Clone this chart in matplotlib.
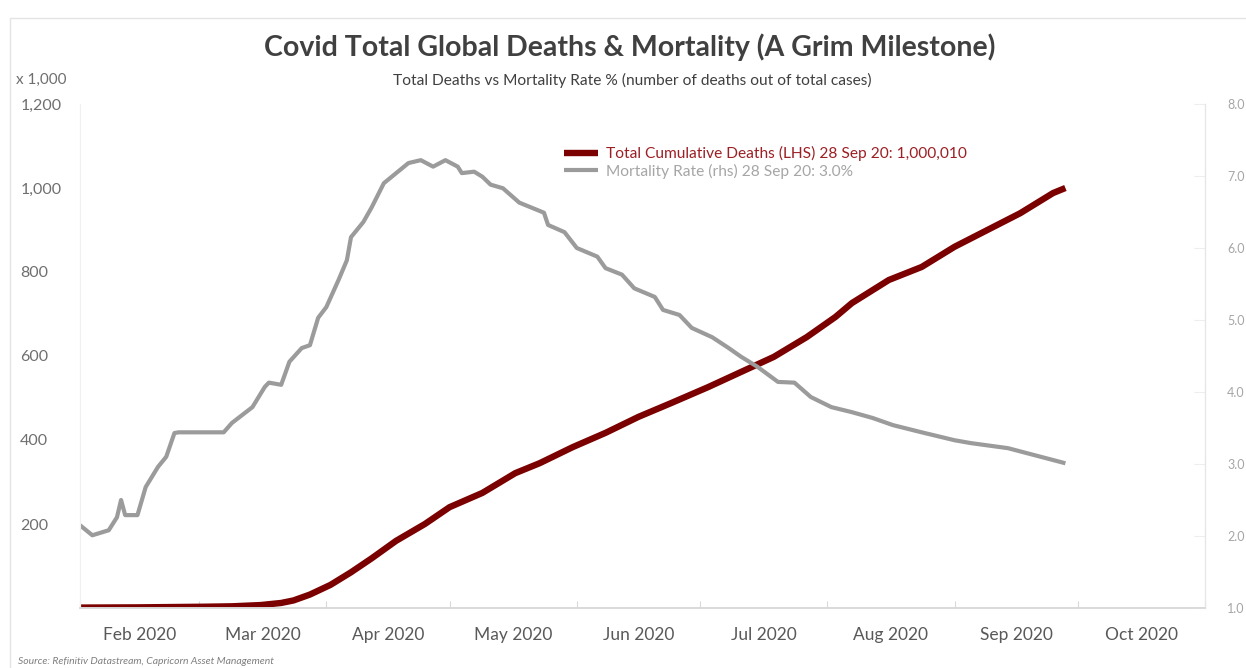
import numpy as np
import pandas as pd
import matplotlib
matplotlib.use("Agg")
import matplotlib.pyplot as plt
import matplotlib.dates as mdates
from matplotlib.patches import Rectangle
from matplotlib.ticker import FixedLocator, NullFormatter

# ─────────────────────────────────────────────
# DATA
# ─────────────────────────────────────────────
# total cumulative deaths, thousands (LHS)
death_dates = ["2020-02-01", "2020-02-15", "2020-03-02", "2020-03-09", "2020-03-16",
               "2020-03-21", "2020-03-24", "2020-03-28", "2020-04-02", "2020-04-07",
               "2020-04-12", "2020-04-18", "2020-04-25", "2020-05-01", "2020-05-09",
               "2020-05-17", "2020-05-23", "2020-05-31", "2020-06-08", "2020-06-16",
               "2020-06-24", "2020-07-03", "2020-07-11", "2020-07-19", "2020-07-27",
               "2020-08-03", "2020-08-07", "2020-08-16", "2020-08-24", "2020-09-01",
               "2020-09-09", "2020-09-17", "2020-09-25", "2020-09-28"]
deaths_k = [1, 1.5, 3, 4, 7, 12, 18, 32, 55, 85, 118, 160, 200, 240, 274,
            321, 345, 383, 417, 455, 488, 526, 562, 598, 645, 693, 726,
            781, 812, 860, 900, 940, 988, 1000]

# mortality rate, % of total cases (RHS)
rate_dates = ["2020-02-01", "2020-02-04", "2020-02-08", "2020-02-10", "2020-02-11",
              "2020-02-12", "2020-02-15", "2020-02-17", "2020-02-20", "2020-02-22",
              "2020-02-24", "2020-02-25", "2020-03-07", "2020-03-09", "2020-03-14",
              "2020-03-17", "2020-03-18", "2020-03-21", "2020-03-23", "2020-03-26",
              "2020-03-28", "2020-03-30", "2020-04-01", "2020-04-04", "2020-04-06",
              "2020-04-07", "2020-04-10", "2020-04-12", "2020-04-15", "2020-04-18",
              "2020-04-21", "2020-04-24", "2020-04-27", "2020-04-30", "2020-05-03",
              "2020-05-04", "2020-05-07", "2020-05-09", "2020-05-11", "2020-05-14",
              "2020-05-18", "2020-05-24", "2020-05-25", "2020-05-29", "2020-06-01",
              "2020-06-06", "2020-06-08", "2020-06-12", "2020-06-15", "2020-06-20",
              "2020-06-22", "2020-06-26", "2020-06-29", "2020-07-04", "2020-07-08",
              "2020-07-11", "2020-07-15", "2020-07-20", "2020-07-24", "2020-07-28",
              "2020-08-02", "2020-08-07", "2020-08-12", "2020-08-17", "2020-08-24",
              "2020-09-01", "2020-09-05", "2020-09-14", "2020-09-22", "2020-09-28"]
rate_pct = [2.15, 2.01, 2.08, 2.26, 2.50, 2.29, 2.29, 2.68, 2.96, 3.10,
            3.43, 3.44, 3.44, 3.57, 3.79, 4.07, 4.13, 4.10, 4.42, 4.61,
            4.65, 5.03, 5.18, 5.56, 5.83, 6.15, 6.36, 6.56, 6.90, 7.04,
            7.18, 7.22, 7.13, 7.22, 7.13, 7.04, 7.06, 6.99, 6.88, 6.83,
            6.63, 6.49, 6.32, 6.22, 6.00, 5.88, 5.72, 5.63, 5.44, 5.32,
            5.14, 5.07, 4.89, 4.76, 4.61, 4.49, 4.35, 4.14, 4.13, 3.93,
            3.79, 3.72, 3.64, 3.54, 3.44, 3.33, 3.29, 3.22, 3.10, 3.01]

left_ticks = [200, 400, 600, 800, 1000, 1200]
right_ticks = [1.0, 2.0, 3.0, 4.0, 5.0, 6.0, 7.0, 8.0]

RED = "#7b0000"
GREY = "#9b9b9b"
AXIS_GREY = "#d9d9d9"
FONT = "Lato"

# ─────────────────────────────────────────────
# FIGURE
# ─────────────────────────────────────────────
plt.rcParams["font.family"] = [FONT, "DejaVu Sans"]
fig = plt.figure(figsize=(12.46, 6.68), dpi=100)
W, H = 1246, 668
ax = fig.add_axes([80 / W, 1 - 608 / H, 1125 / W, 504 / H])
ax2 = ax.twinx()

d_dates = pd.to_datetime(death_dates)
r_dates = pd.to_datetime(rate_dates)

ln1, = ax.plot(d_dates, deaths_k, color=RED, lw=4.6, solid_capstyle="butt",
               solid_joinstyle="round",
               label="Total Cumulative Deaths (LHS) 28 Sep 20: 1,000,010")
ln2, = ax2.plot(r_dates, rate_pct, color=GREY, lw=3.0, solid_capstyle="butt",
                solid_joinstyle="round",
                label="Mortality Rate (rhs) 28 Sep 20: 3.0%")

ax.set_xlim(pd.Timestamp("2020-02-01"), pd.Timestamp("2020-11-01"))
ax.set_ylim(0, 1200)
ax2.set_ylim(1.0, 8.0)

# month boundaries as ticks, labels centred in each month
month_starts = pd.date_range("2020-02-01", "2020-11-01", freq="MS")
mids = [s + (e - s) / 2 for s, e in zip(month_starts[:-1], month_starts[1:])]
ax.xaxis.set_major_locator(FixedLocator(mdates.date2num(month_starts)))
ax.xaxis.set_major_formatter(NullFormatter())
ax.xaxis.set_minor_locator(FixedLocator(mdates.date2num(mids)))
ax.set_xticklabels([m.strftime("%b %Y") for m in mids], minor=True)
ax.tick_params(axis="x", which="major", direction="in", length=5, color=AXIS_GREY)
ax.tick_params(axis="x", which="minor", length=0, pad=14, labelsize=12.5,
               labelcolor="#595959")

ax.set_yticks(left_ticks)
ax.set_yticklabels([f"{v:,}" for v in left_ticks])
ax.tick_params(axis="y", length=0, pad=43, labelsize=11.5, labelcolor="#6f6f6f")
for lbl in ax.get_yticklabels():
    lbl.set_horizontalalignment("left")

ax2.set_yticks(right_ticks)
ax2.set_yticklabels([f"{v:.1f}" for v in right_ticks])
ax2.tick_params(axis="y", direction="in", length=8, color="#eeeeee", pad=16,
                labelsize=9, labelcolor="#a6a6a6")

for a in (ax, ax2):
    a.spines["top"].set_visible(False)
    a.spines["bottom"].set_color(AXIS_GREY)
    a.spines["left"].set_color("#f0f0f0")
    a.spines["right"].set_color("#e6e6e6")
    a.spines["bottom"].set_linewidth(1.2)

leg = ax2.legend(handles=[ln1, ln2], loc="upper left", frameon=False,
                 bbox_to_anchor=(558 / W, 1 - 140 / H), bbox_transform=fig.transFigure,
                 fontsize=11.2, handlelength=2.2, handletextpad=0.5, labelspacing=0.15,
                 borderaxespad=0)
for txt, col in zip(leg.get_texts(), ("#9c1f24", "#a6a6a6")):
    txt.set_color(col)

# ─────────────────────────────────────────────
# TEXT & FRAME
# ─────────────────────────────────────────────
fig.text(630 / W, 1 - 47 / H, "Covid Total Global Deaths & Mortality (A Grim Milestone)",
         ha="center", va="center", fontsize=20.5, fontweight="bold", color="#404040")
fig.text(632 / W, 1 - 80 / H,
         "Total Deaths vs Mortality Rate % (number of deaths out of total cases)",
         ha="center", va="center", fontsize=11.2, color="#404040")
fig.text(16 / W, 1 - 80 / H, "x 1,000", ha="left", va="center", fontsize=11,
         color="#6f6f6f")
fig.text(18 / W, 1 - 661 / H, "Source: Refinitiv Datastream, Capricorn Asset Management",
         ha="left", va="center", fontsize=7.5, style="italic", color="#7f7f7f")

fig.patches.append(Rectangle((10 / W, -0.1), 1.2, 1 - 18 / H + 0.1,
                             transform=fig.transFigure, fill=False,
                             edgecolor="#e4e4e4", lw=1.0))

fig.savefig("out.png", dpi=100)
